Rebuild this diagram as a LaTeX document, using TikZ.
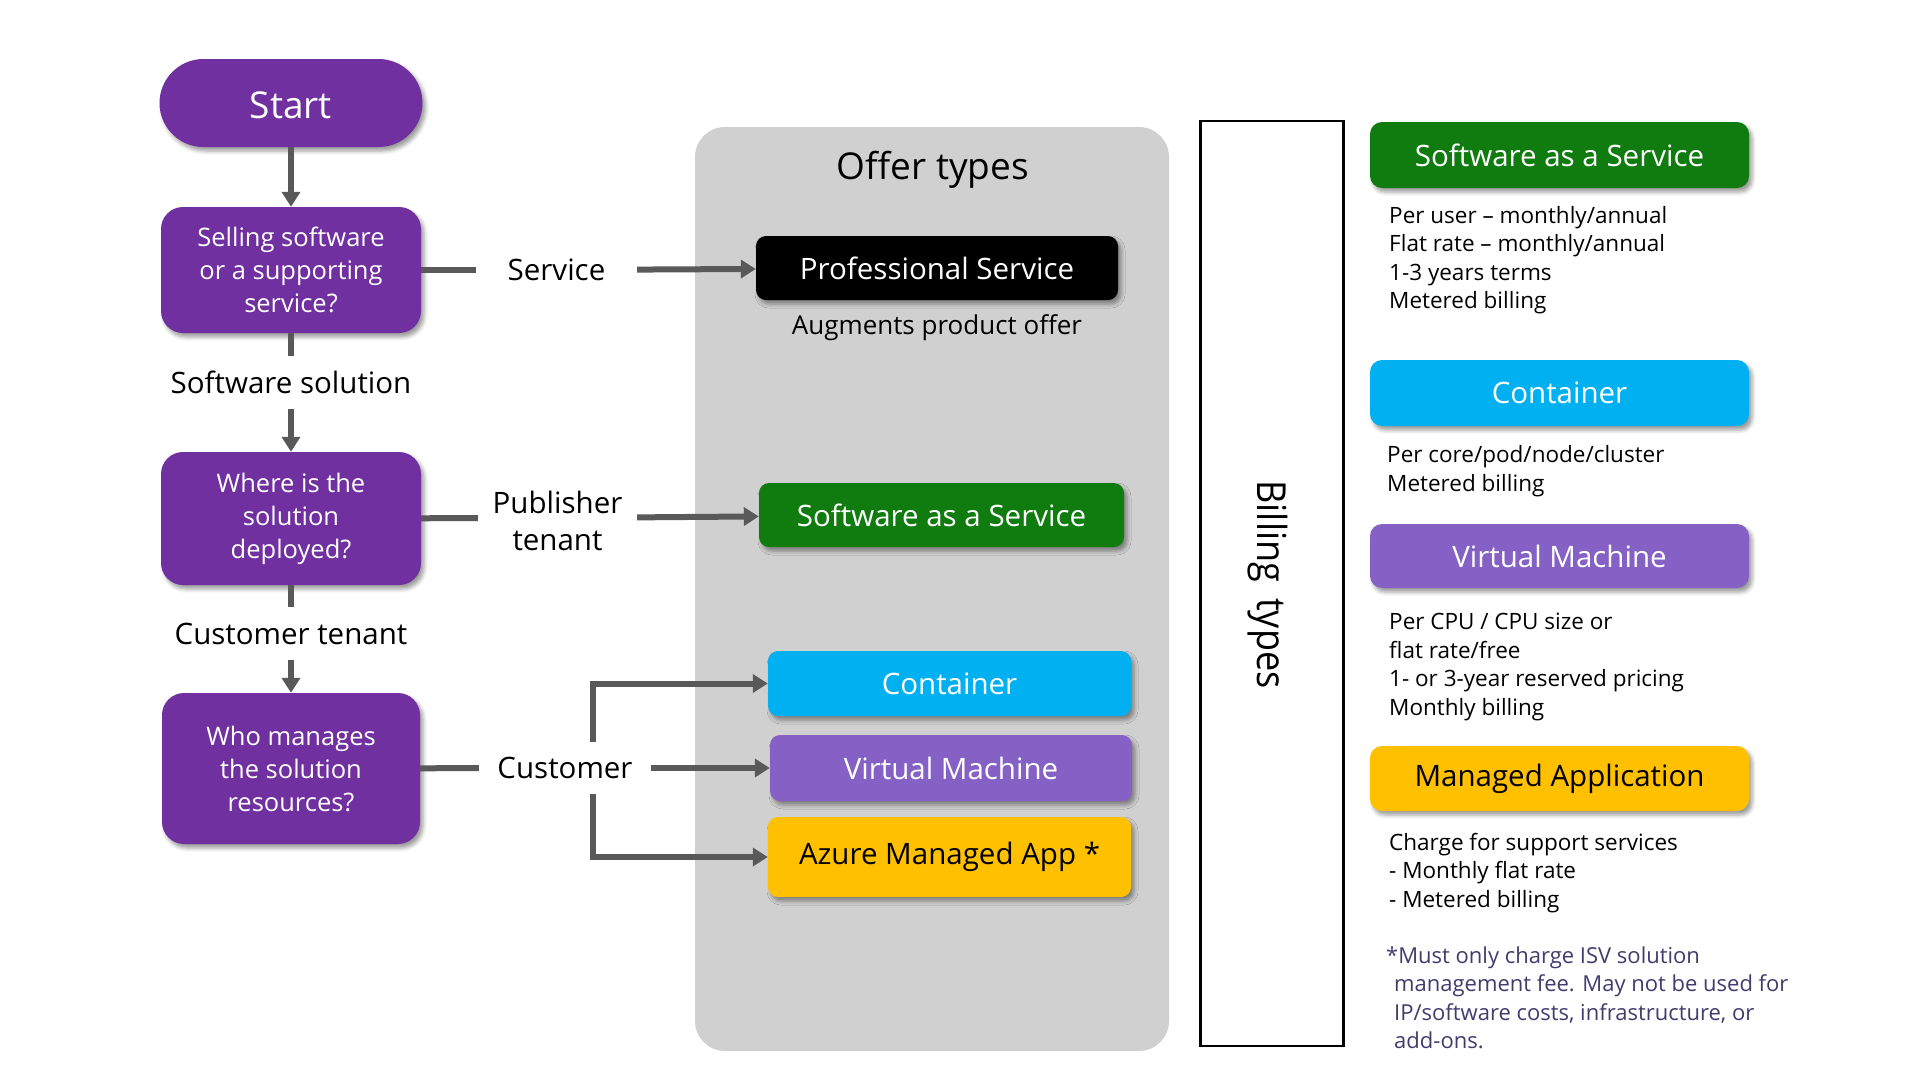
\documentclass[tikz,border=0pt]{standalone}
\usepackage{fontspec}
\setmainfont{Open Sans}
\usetikzlibrary{arrows.meta,shadows.blur}
\definecolor{mpurple}{HTML}{7030A0}
\definecolor{mgreen}{HTML}{107C10}
\definecolor{mcyan}{HTML}{00B0F0}
\definecolor{mvm}{HTML}{8661C5}
\definecolor{myellow}{HTML}{FFC000}
\definecolor{mpanel}{HTML}{D0D0D0}
\definecolor{cgrey}{HTML}{595959}
\definecolor{footc}{HTML}{403C6E}
\begin{document}
\begin{tikzpicture}[x=1pt,y=-1pt,
  shadowed/.style={blur shadow={shadow xshift=3pt,shadow yshift=-4pt,shadow blur radius=4pt,shadow opacity=40}},
  qbox/.style={shadowed,fill=mpurple,text=white,rounded corners=22pt,inner sep=0pt,align=center,
    font=\fontsize{25.5}{33}\selectfont},
  lbl/.style={inner sep=0pt,align=center,font=\fontsize{29.5}{37}\selectfont},
  offer/.style={shadowed,rounded corners=10pt,inner sep=0pt,text=white,font=\fontsize{29.5}{36}\selectfont},
  billhd/.style={shadowed,rounded corners=12pt,inner sep=0pt,minimum width=379pt,text=white,font=\fontsize{29.5}{36}\selectfont},
  desc/.style={anchor=west,align=left,inner sep=0pt,font=\fontsize{22.5}{28.5}\selectfont},
  conn/.style={draw=cgrey,line width=6pt},
  arr/.style={conn,-{Triangle[length=15pt,width=18pt]}}
]
\useasboundingbox (0,0) rectangle (1920,1080);

% offer types panel
\node[fill=mpanel,rounded corners=30pt,minimum width=474pt,minimum height=924pt,inner sep=0pt] (panel) at (932,589) {};
\node[inner sep=0pt,font=\fontsize{37}{44}\selectfont] (offtitle) at (933,170) {Offer types};

% left flow
\node[shadowed,fill=mpurple,text=white,rounded corners=44pt,minimum width=263pt,minimum height=88pt,inner sep=0pt,
  text height=31pt,text depth=0pt,font=\fontsize{37}{44}\selectfont] (start) at (291,103) {Start};
\node[qbox,minimum width=260pt,minimum height=126pt] (q1) at (291,270) {Selling software\\or a supporting\\service?};
\node[qbox,minimum width=260pt,minimum height=133pt] (q2) at (291,518.5) {Where is the\\solution\\deployed?};
\node[qbox,minimum width=258pt,minimum height=151pt] (q3) at (291,768.5) {Who manages\\the solution\\resources?};

\node[lbl,minimum width=250pt,minimum height=53pt] (ss) at (291,382.5) {Software solution};
\node[lbl,minimum width=250pt,minimum height=52pt] (ct) at (291,633.5) {Customer tenant};
\node[lbl,minimum width=161pt,minimum height=40pt] (svc) at (556.5,270) {Service};
\node[lbl,minimum width=159pt,minimum height=80pt] (pub) at (557.5,518) {\raisebox{-13pt}[0pt][0pt]{\begin{tabular}{@{}c@{}}Publisher\\tenant\end{tabular}}};
\node[lbl,minimum width=172pt,minimum height=52pt] (cust) at (565,768) {Customer};

% offer boxes
\node[offer,fill=black,minimum width=362pt,minimum height=64pt] (prof) at (937,268) {Professional Service};
\node[inner sep=0pt,font=\fontsize{26}{32}\selectfont] (aug) at (937,328) {Augments product offer};
\node[offer,fill=mgreen,minimum width=365pt,minimum height=64pt] (saasm) at (941.5,515) {Software as a Service};
\node[offer,fill=mcyan,minimum width=363pt,minimum height=65pt] (contm) at (949.5,683.5) {Container};
\node[offer,fill=mvm,minimum width=362pt,minimum height=66pt] (vmm) at (951,768) {Virtual Machine};
\node[offer,fill=myellow,text=black,minimum width=363pt,minimum height=80pt] (amam) at (949.5,857) {Azure Managed App *};

% connectors
\draw[arr] (start) -- (q1);
\draw[conn] (q1) -- (ss);
\draw[arr] (ss) -- (q2);
\draw[conn] (q2) -- (ct);
\draw[arr] (ct) -- (q3);
\draw[conn] (q1) -- (svc);
\draw[arr] (svc) -- (prof);
\draw[conn] (q2) -- (pub);
\draw[arr] (pub) -- (saasm);
\draw[conn] (q3) -- (cust);
\draw[arr] (cust) -- (vmm);
\draw[arr] ([xshift=28pt]cust.north) |- (contm.west);
\draw[arr] ([xshift=28pt]cust.south) |- (amam.west);

% billing types
\node[draw=black,line width=2.5pt,minimum width=143pt,minimum height=925pt,inner sep=0pt] (billbox) at (1272,583.5) {};
\node[rotate=-90,anchor=base,inner sep=0pt] (billtxt) at (1257.5,584.5) {\scalebox{0.9}[1]{\fontsize{40}{48}\selectfont Billing\hspace{18pt}types}};

\node[billhd,fill=mgreen,minimum height=66pt] (saasr) at (1559.5,155) {Software as a Service};
\node[desc] (saasd) at (1389,260) {Per user – monthly/annual\\Flat rate – monthly/annual\\1-3 years terms\\Metered billing};
\node[billhd,fill=mcyan,minimum height=66pt] (contr) at (1559.5,393) {Container};
\node[desc] (contd) at (1387,471) {Per core/pod/node/cluster\\Metered billing};
\node[billhd,fill=mvm,minimum height=64pt] (vmr) at (1559.5,556) {Virtual Machine};
\node[desc] (vmd) at (1389,667) {Per CPU / CPU size or\\flat rate/free\\1- or 3-year reserved pricing\\Monthly billing};
\node[billhd,fill=myellow,text=black,minimum height=65pt] (mar) at (1559.5,778.5) {Managed Application};
\node[desc] (mad) at (1389,873) {Charge for support services\\- Monthly flat rate\\- Metered billing};
\node[desc,text=footc,font=\fontsize{22}{28.5}\selectfont] (foot) at (1386,998) {*Must only charge ISV solution\\\hspace*{8pt}management fee. May not be used for\\\hspace*{8pt}IP/software costs, infrastructure, or\\\hspace*{8pt}add-ons.};
\end{tikzpicture}
\end{document}
